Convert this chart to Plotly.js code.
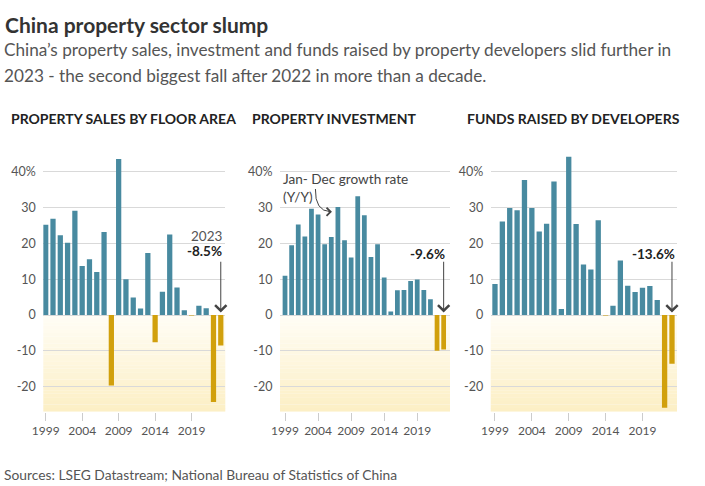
<!DOCTYPE html>
<html><head><meta charset="utf-8">
<script src="https://cdn.plot.ly/plotly-3.0.1.min.js"></script>
<style>html,body{margin:0;padding:0;background:#fff}#chart{width:705px;height:486px}</style>
</head><body><div id="chart"></div>
<script>
// ---- data ----
const years = [1999,2000,2001,2002,2003,2004,2005,2006,2007,2008,2009,2010,2011,2012,2013,2014,2015,2016,2017,2018,2019,2020,2021,2022,2023];
const salesFloorArea = [25.2,26.9,22.3,20.2,29.1,13.7,15.6,12.0,23.2,-19.7,43.6,10.0,4.9,1.8,17.3,-7.6,6.5,22.5,7.7,1.3,-0.1,2.6,1.9,-24.3,-8.5];
const investment = [11.0,19.5,25.3,21.9,29.7,28.1,19.8,21.8,30.2,20.9,16.1,33.2,27.9,16.2,19.8,10.5,1.0,6.9,7.0,9.5,9.9,7.0,4.4,-10.0,-9.6];
const fundsRaised = [8.7,26.1,29.9,29.3,37.7,29.9,23.3,25.5,37.3,1.7,44.2,25.4,14.1,12.7,26.5,-0.1,2.6,15.2,8.2,6.4,7.6,8.1,4.2,-25.9,-13.6];
const xTickVals = [1999,2004,2009,2014,2019];
const xTickText = ['1999','2004','2009','2014','2019'];
const yTickVals = [-20,-10,0,10,20,30,40];
const yTickText = ['-20','-10','0','10','20','30','40%'];
const panelTitles = ['PROPERTY SALES BY FLOOR AREA','PROPERTY INVESTMENT','FUNDS RAISED BY DEVELOPERS'];
const latestLabels = ['-8.5%','-9.6%','-13.6%'];
const latestYear = 2023;
const mainTitle = 'China property sector slump';
const subtitleLines = ['China\u2019s property sales, investment and funds raised by property developers slid further in',
                       '2023 - the second biggest fall after 2022 in more than a decade.'];
const sourceText = 'Sources: LSEG Datastream; National Bureau of Statistics of China';
const noteLines = ['Jan- Dec growth rate', '(Y/Y)'];

// ---- style ----
const BLUE = '#488aa0', GOLD = '#d1a00c';
const FONT = 'Lato, "Noto Sans", sans-serif';
const series = [salesFloorArea, investment, fundsRaised];
const xDomains = [[43.3/705, 225.3/705],[280/705, 450/705],[490.7/705, 677/705]];
const xRanges = [[1998.67, 2023.62],[1998.24, 2023.96],[1998.42, 2023.68]];
const yDomain = [0.1529, 0.6833];
const yRange = [-27, 45];

const traces = series.map((vals, i) => ({
  type: 'bar', x: years, y: vals,
  xaxis: i ? 'x' + (i+1) : 'x', yaxis: i ? 'y' + (i+1) : 'y',
  marker: {color: vals.map(v => v < 0 ? GOLD : BLUE), line: {width: 0}},
  hoverinfo: 'skip', showlegend: false
}));

const layout = {
  width: 705, height: 486,
  margin: {l: 0, r: 0, t: 0, b: 0, autoexpand: false},
  paper_bgcolor: '#fff', plot_bgcolor: 'rgba(0,0,0,0)',
  bargap: 0.28,
  font: {family: FONT, color: '#555', size: 12},
  shapes: [], annotations: []
};

function lerp(a, b, t) { return Math.round(a + (b - a) * t); }
for (let i = 0; i < 3; i++) {
  const s = i ? String(i+1) : '';
  layout['xaxis' + s] = {
    domain: xDomains[i], range: xRanges[i], anchor: 'y' + s,
    tickvals: xTickVals, ticktext: xTickText, ticks: 'outside', ticklen: 8,
    tickcolor: '#cccccc', tickwidth: 1, showgrid: false, zeroline: false, showline: false,
    tickfont: {size: 12, color: '#555', family: FONT}, fixedrange: true
  };
  layout['yaxis' + s] = {
    domain: yDomain, range: yRange, anchor: 'x' + s,
    tickvals: yTickVals, ticktext: yTickText, ticks: 'outside', ticklen: 4,
    tickcolor: 'rgba(0,0,0,0)', showgrid: true, gridcolor: '#d9d9d9', gridwidth: 1,
    zeroline: false, showline: false,
    tickfont: {size: 12.5, color: '#555', family: FONT}, fixedrange: true
  };
  // pale yellow gradient background below zero
  const N = 27;
  for (let k = 0; k < N; k++) {
    const t = (k + 0.5) / N;
    const col = `rgb(${lerp(255,252,t)},${lerp(253,239,t)},${lerp(246,196,t)})`;
    layout.shapes.push({type: 'rect', layer: 'below', xref: 'x' + s + ' domain', yref: 'y' + s,
      x0: 0, x1: 1, y0: -k, y1: -(k + 1.02), fillcolor: col, line: {width: 0}});
  }
}

const ann = layout.annotations;
const paperX = px => px / 705, paperY = py => 1 - py / 486;
ann.push({xref: 'paper', yref: 'paper', x: paperX(3), y: paperY(24), xanchor: 'left', yanchor: 'middle',
  text: '<b>' + mainTitle + '</b>', showarrow: false, font: {size: 21, color: '#333', family: FONT}});
subtitleLines.forEach((t, j) => ann.push({xref: 'paper', yref: 'paper', x: paperX(2), y: paperY(50 + 25 * j),
  xanchor: 'left', yanchor: 'middle', text: t, showarrow: false, font: {size: 17.2, color: '#555', family: FONT}}));
const titleX = [9, 250, 465];
panelTitles.forEach((t, i) => ann.push({xref: 'paper', yref: 'paper', x: paperX(titleX[i]), y: paperY(118),
  xanchor: 'left', yanchor: 'middle', text: '<b>' + t + '</b>', showarrow: false, font: {size: 14, color: '#222', family: FONT}}));
ann.push({xref: 'paper', yref: 'paper', x: paperX(2), y: paperY(474), xanchor: 'left', yanchor: 'middle',
  text: sourceText, showarrow: false, font: {size: 13.8, color: '#555', family: FONT}});

// latest-value call-outs
const labelRight = [2023.46, 2023.5, 2023.64];
for (let i = 0; i < 3; i++) {
  const s = i ? String(i+1) : '';
  ann.push({xref: 'x' + s, yref: 'y' + s, x: labelRight[i], y: i === 0 ? 17.9 : 17.0, xanchor: 'right', yanchor: 'middle',
    text: '<b>' + latestLabels[i] + '</b>', showarrow: false, font: {size: 13.5, color: '#222', family: FONT}});
  ann.push({xref: 'x' + s, yref: 'y' + s, x: latestYear, y: 0.7, axref: 'x' + s, ayref: 'y' + s,
    ax: latestYear, ay: 15.3, text: '', showarrow: true, arrowhead: 4, arrowsize: 2.2, arrowwidth: 1,
    arrowcolor: '#444', standoff: 0});
}
ann.push({xref: 'x', yref: 'y', x: labelRight[0], y: 22.1, xanchor: 'right', yanchor: 'middle',
  text: String(latestYear), showarrow: false, font: {size: 13.5, color: '#555', family: FONT}});

// note on investment panel
ann.push({xref: 'x2', yref: 'y2', x: 1998.55, y: 35.6, xanchor: 'left', yanchor: 'middle', align: 'left',
  text: noteLines.join('<br>'), showarrow: false, borderpad: 0, font: {size: 13.6, color: '#444', family: FONT}});
layout.shapes.push({type: 'path', xref: 'x2', yref: 'y2', layer: 'above',
  path: 'M 2003.6,35.2 Q 2003.5,29.0 2005.9,28.85', line: {color: '#444', width: 1}});
ann.push({xref: 'x2', yref: 'y2', x: 2006.1, y: 28.85, ax: -5, ay: 0, text: '', showarrow: true,
  arrowhead: 4, arrowsize: 1.6, arrowwidth: 1, arrowcolor: '#444', standoff: 0});

Plotly.newPlot('chart', traces, layout, {displayModeBar: false, staticPlot: true});
</script>
</body></html>
